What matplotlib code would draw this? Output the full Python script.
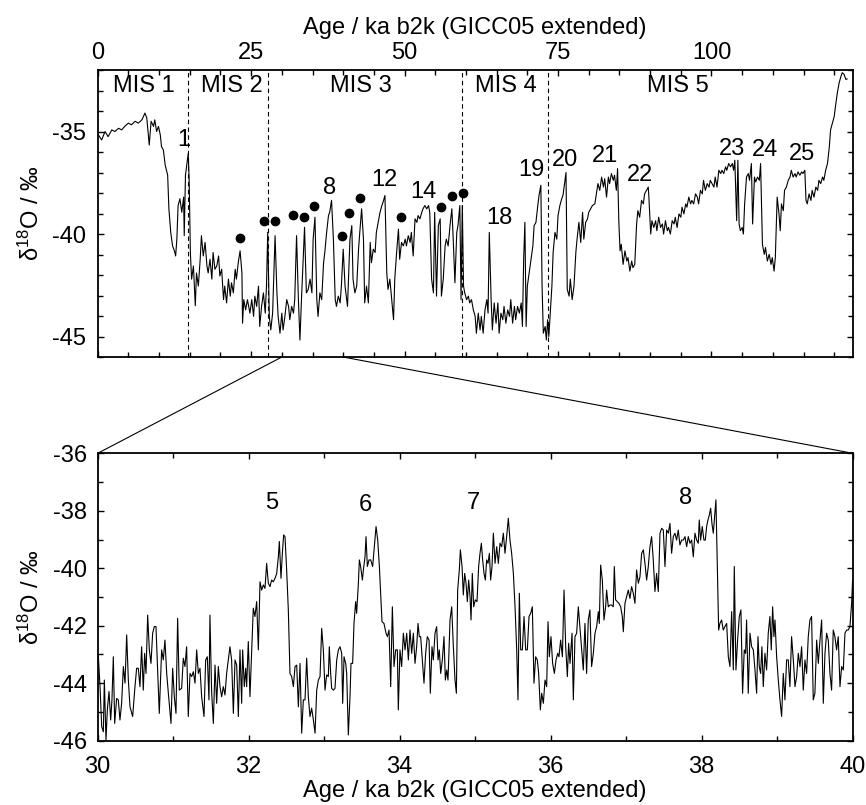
import numpy as np
import matplotlib.pyplot as plt
from matplotlib.patches import ConnectionPatch
from matplotlib.ticker import MultipleLocator

plt.rcParams['font.family'] = ['Liberation Sans', 'DejaVu Sans']
plt.rcParams['mathtext.fontset'] = 'custom'
plt.rcParams['mathtext.rm'] = 'Liberation Sans'
plt.rcParams['mathtext.it'] = 'Liberation Sans:italic'
plt.rcParams['font.size'] = 17
plt.rcParams['axes.unicode_minus'] = False

# full record, 0-123 ka
top_age = [
    0.1, 0.65, 1.2, 1.7, 2.3, 2.8, 3.4, 3.9, 4.4, 5.0, 5.5, 6.1, 6.6, 7.2, 7.7, 8.0, 8.4, 8.7, 9.1, 9.3,
    9.6, 9.9, 10.2, 10.4, 10.7, 11.0, 11.2, 11.4, 11.6, 11.9, 12.2, 12.5, 12.7, 12.9, 13.1, 13.4, 13.7, 14.0, 14.1, 14.3,
    14.5, 14.75, 14.9, 15.1, 15.3, 15.6, 15.9, 16.1, 16.4, 16.7, 16.9, 17.2, 17.5, 17.8, 18.0, 18.3, 18.6, 18.8, 19.1, 19.4,
    19.7, 19.9, 20.2, 20.5, 20.7, 21.0, 21.3, 21.6, 21.8, 22.1, 22.4, 22.6, 22.9, 23.2, 23.5, 23.6, 23.8, 24.1, 24.4, 24.8,
    25.1, 25.4, 25.6, 25.9, 26.2, 26.4, 26.7, 27.0, 27.3, 27.5, 27.7, 27.96, 28.2, 28.5, 28.7, 28.9, 29.2, 29.4, 29.7, 30.0,
    30.2, 30.5, 30.8, 31.1, 31.3, 31.6, 31.9, 32.1, 32.4, 32.7, 32.95, 33.2, 33.7, 34.0, 34.3, 34.6, 34.9, 35.1, 35.4, 35.7,
    35.9, 36.2, 36.5, 36.8, 37.0, 37.3, 37.6, 37.8, 38.1, 38.4, 38.7, 38.9, 39.2, 39.5, 39.7, 40.0,
    40.3, 40.7, 41.1, 41.4, 41.6, 41.9, 42.2, 42.5, 42.7, 43.0, 43.3, 43.5, 43.8, 44.1, 44.4, 44.6, 44.9, 45.2, 45.4, 45.7,
    46.0, 46.3, 46.5, 46.8, 47.1, 47.3, 47.6, 47.9, 48.2, 48.4, 48.7, 49.0, 49.2, 49.5, 49.8, 50.1, 50.3, 50.6, 50.9, 51.1,
    51.4, 51.7, 52.0, 52.2, 52.5, 52.8, 53.0, 53.3, 53.6, 53.9, 54.1, 54.4, 54.7, 54.9, 55.2, 55.5, 55.8, 56.0, 56.3, 56.6,
    56.8, 57.1, 57.4, 57.7, 57.9, 58.2, 58.5, 58.7, 59.0, 59.2, 59.4, 59.6, 59.8, 60.1, 60.4, 60.6, 60.9, 61.2, 61.5, 61.7,
    62.0, 62.3, 62.5, 62.8, 63.1, 63.4, 63.6, 63.8, 64.1, 64.3, 64.6, 64.9, 65.2, 65.4, 65.7, 66.0, 66.2, 66.5, 66.8, 67.1,
    67.3, 67.6, 67.9, 68.1, 68.4, 68.7, 69.0, 69.2, 69.4, 69.6, 69.8, 70.0, 70.3, 70.6, 70.9, 71.1, 71.4, 71.7, 71.9, 72.2,
    72.4, 72.6, 72.9, 73.1, 73.3, 73.5, 73.7, 74.0, 74.2, 74.5, 74.8, 75.0, 75.3, 75.6, 75.8, 76.1, 76.3, 76.5, 76.8, 77.0,
    77.3, 77.6, 77.9, 78.1, 78.4, 78.7, 79.0, 79.2, 79.5, 79.8, 80.0, 80.3, 80.6,
    81.0, 81.5, 81.8, 82.1, 82.4, 82.6, 82.9, 83.2, 83.4, 83.7, 84.0, 84.2, 84.5, 84.7, 84.9, 85.1, 85.3, 85.6, 85.9, 86.2,
    86.4, 86.7, 87.0, 87.2, 87.5, 87.8, 88.0, 88.3, 88.6, 88.9, 89.1, 89.4, 89.7, 89.8, 90.1, 90.3, 90.6, 90.9, 91.1, 91.4,
    91.7, 92.0, 92.2, 92.5, 92.8, 93.0, 93.3, 93.6, 93.9, 94.1, 94.4, 94.7, 95.0, 95.2, 95.5, 95.8, 96.0, 96.3, 96.6, 96.8,
    97.1, 97.4, 97.7, 97.9, 98.2, 98.5, 98.7, 99.0, 99.3, 99.6, 99.8, 100.1, 100.4, 100.6, 100.9, 101.2, 101.5, 101.7, 102.0, 102.3,
    102.5, 102.8, 103.1, 103.4, 103.6, 103.8, 104.1, 104.3, 104.5, 104.7, 105.0, 105.2, 105.4, 105.7, 106.0, 106.2, 106.5, 106.7, 107.0, 107.2,
    107.5, 107.8, 108.0, 108.3, 108.6, 108.8, 109.1, 109.4, 109.7, 109.9, 110.2, 110.4, 110.7, 111.0, 111.2, 111.4, 111.7, 111.9, 112.2, 112.5,
    112.8, 113.0, 113.3, 113.6, 113.8, 114.1, 114.4, 114.7, 114.9, 115.2, 115.4, 115.6, 115.9, 116.2, 116.4, 116.7, 117.0, 117.3, 117.5, 117.8,
    118.1, 118.3, 118.6, 118.9, 119.2, 119.4, 119.7, 120.0, 120.2, 120.5, 120.8, 121.1, 121.3, 121.6, 121.9, 122.1]
top_d18o = [
    -35.16, -35.41, -35.0, -35.25, -34.92, -35.0, -34.84, -34.92, -34.75, -34.59, -34.67, -34.5, -34.59, -34.43, -34.1, -34.34, -35.66, -34.5, -34.75, -34.43,
    -35.0, -34.75, -35.16, -35.74, -35.9, -36.64, -36.89, -37.13, -38.77, -39.92, -40.58, -40.82, -41.07, -40.25, -38.61, -38.28, -38.94, -38.2, -40.08, -37.13,
    -36.64, -36.07, -37.3, -40.9, -42.2, -41.56, -43.5, -41.9, -42.54, -41.23, -40.08, -41.07, -40.41, -41.56, -41.9, -41.23, -42.2, -40.9, -41.72, -41.56,
    -41.07, -42.05, -41.72, -43.2, -42.54, -43.36, -42.2, -43.03, -42.38, -42.87, -41.72, -42.2, -41.4, -40.82, -41.9, -44.35, -43.2, -43.7, -43.2, -43.86,
    -43.2, -44.02, -43.03, -43.53, -42.54, -44.51, -43.53, -42.87, -43.86, -42.54, -39.92, -44.02, -44.68, -43.86, -41.9, -40.08, -42.87, -44.02, -44.84, -43.86,
    -44.68, -44.02, -43.2, -43.53, -44.18, -43.53, -43.86, -43.2, -40.08, -43.2, -45.17, -43.2, -39.67, -42.87, -42.7, -42.2, -42.87, -40.25, -39.18, -43.2,
    -44.02, -42.87, -43.2, -41.4, -40.9, -39.92, -39.1, -38.94, -38.36, -40.25, -43.2, -43.53, -43.03, -43.36, -42.54, -40.74,
    -42.54, -43.53, -40.25, -39.59, -42.2, -42.87, -42.54, -40.74, -39.92, -38.77, -40.25, -43.36, -42.54, -43.36, -40.41, -41.4, -40.74, -40.9, -39.92, -39.43,
    -38.94, -38.61, -38.44, -38.12, -41.9, -42.7, -42.2, -43.2, -44.18, -42.2, -40.9, -39.76, -41.23, -40.41, -40.58, -40.25, -40.58, -40.08, -40.41, -39.92,
    -41.07, -39.26, -39.43, -39.1, -39.26, -38.94, -38.77, -38.61, -38.77, -38.61, -38.94, -42.2, -42.87, -38.94, -43.03, -39.59, -39.26, -43.03, -42.2, -40.58,
    -40.25, -40.58, -39.59, -38.77, -40.08, -42.38, -39.92, -39.59, -38.61, -43.2, -38.61, -42.54, -42.87, -43.2, -43.03, -43.36, -43.2, -43.7, -44.02, -44.84,
    -43.86, -44.68, -44.02, -44.84, -43.7, -43.2, -43.86, -39.92, -43.2, -44.68, -43.36, -44.35, -43.36, -44.84, -43.86, -44.18, -43.53, -44.35, -43.7, -44.02,
    -43.2, -44.35, -43.53, -44.18, -43.53, -43.86, -43.36, -44.51, -41.23, -39.43, -44.51, -42.54, -41.9, -41.23, -40.58, -39.59, -39.43, -38.61, -38.12, -37.62,
    -42.54, -44.84, -44.51, -45.17, -44.18, -45.0, -44.02, -42.54, -40.9, -39.92, -40.25, -39.1, -38.61, -38.28, -38.12, -37.46, -37.0, -42.7, -43.03, -42.2,
    -43.2, -42.54, -40.9, -40.25, -39.43, -40.41, -38.94, -40.25, -39.43, -39.26, -38.94, -38.77, -38.61,
    -38.53, -37.54, -37.87, -37.22, -37.71, -37.3, -38.2, -37.22, -37.54, -37.05, -37.38, -37.13, -37.87, -36.81, -39.35, -40.82, -40.5, -41.48, -40.82, -41.32,
    -41.15, -41.81, -41.32, -41.64, -41.48, -39.51, -38.86, -39.18, -38.36, -38.53, -38.04, -37.87, -37.71, -38.2, -40.0, -39.35, -39.68, -39.35, -39.84, -39.18,
    -39.68, -39.51, -40.0, -39.35, -39.84, -39.68, -40.0, -39.35, -39.51, -39.18, -39.68, -39.02, -39.18, -38.69, -39.02, -38.53, -38.69, -38.2, -38.53, -38.36,
    -38.53, -38.04, -38.2, -38.53, -37.87, -38.04, -37.38, -37.87, -37.54, -37.71, -37.38, -37.54, -37.71, -37.22, -37.71, -36.89, -37.05, -36.89, -37.05, -36.72,
    -36.89, -36.56, -36.72, -36.56, -36.89, -36.4, -39.35, -36.4, -39.51, -39.84, -39.68, -40.0, -38.53, -37.22, -37.05, -37.38, -36.56, -39.51, -37.22, -37.46,
    -37.22, -37.38, -36.56, -40.5, -40.99, -40.66, -41.32, -40.99, -41.48, -41.15, -41.81, -41.15, -38.2, -39.02, -39.84, -38.53, -38.86, -37.87, -37.71, -37.38,
    -37.22, -36.89, -37.22, -37.05, -37.22, -36.97, -37.13, -36.97, -37.05, -36.89, -38.36, -38.53, -38.04, -38.36, -37.87, -38.2, -37.71, -37.87, -37.38, -37.54,
    -37.22, -37.38, -36.89, -36.56, -35.74, -34.92, -34.59, -34.26, -33.77, -33.12, -32.62, -32.3, -32.13, -32.21, -32.46, -32.43]

# 30-40 ka detail
bot_age = [
    30.008, 30.031, 30.053, 30.075, 30.088, 30.110, 30.128, 30.150, 30.172, 30.189, 30.207, 30.225, 30.251, 30.273, 30.295, 30.317, 30.340, 30.362, 30.384, 30.406,
    30.428, 30.463, 30.494, 30.516, 30.538, 30.560, 30.582, 30.604, 30.622, 30.640, 30.662, 30.684, 30.706, 30.728, 30.750, 30.772, 30.816, 30.847, 30.869, 30.891,
    30.914, 30.936, 30.971, 30.993, 31.015, 31.037, 31.059, 31.081, 31.112, 31.134, 31.156, 31.178, 31.200, 31.223, 31.245, 31.267, 31.289, 31.311, 31.333, 31.355,
    31.377, 31.408, 31.430, 31.452, 31.474, 31.487, 31.509, 31.532, 31.554, 31.576, 31.598, 31.620, 31.642, 31.664, 31.686, 31.708, 31.730, 31.752, 31.774, 31.797,
    31.819, 31.841, 31.863, 31.885, 31.907, 31.920, 31.942, 31.960, 31.973, 31.995, 32.017, 32.039, 32.061, 32.083, 32.106, 32.128, 32.150, 32.172, 32.194, 32.216,
    32.238, 32.260, 32.282, 32.304, 32.326, 32.349, 32.371, 32.393, 32.406, 32.428, 32.446, 32.463, 32.481, 32.503, 32.525,
    32.547, 32.570, 32.592, 32.614, 32.636, 32.658, 32.680, 32.702, 32.724, 32.746, 32.768, 32.790, 32.812, 32.834, 32.857, 32.879, 32.901, 32.923, 32.945, 32.967,
    32.989, 33.011, 33.033, 33.055, 33.068, 33.086, 33.099, 33.121, 33.143, 33.166, 33.188, 33.210, 33.232, 33.245, 33.263, 33.285, 33.298, 33.320, 33.342, 33.355,
    33.377, 33.395, 33.417, 33.430, 33.453, 33.466, 33.483, 33.506, 33.519, 33.541, 33.554, 33.572, 33.594, 33.616, 33.642, 33.664, 33.687, 33.709, 33.731, 33.748,
    33.766, 33.792, 33.819, 33.837, 33.859, 33.881, 33.903, 33.925, 33.947, 33.969, 33.982, 34.004, 34.026, 34.049, 34.071, 34.093, 34.115, 34.137, 34.159, 34.181,
    34.203, 34.225, 34.243, 34.260, 34.278, 34.300, 34.322, 34.344, 34.366, 34.389, 34.406, 34.428, 34.446, 34.468, 34.490, 34.508, 34.525, 34.543, 34.565, 34.587,
    34.605, 34.623, 34.640, 34.667, 34.689, 34.711, 34.733, 34.751, 34.768, 34.790, 34.804, 34.826, 34.843, 34.861, 34.879, 34.896, 34.914, 34.932, 34.945, 34.962,
    34.980, 35.002, 35.024, 35.046, 35.064, 35.082, 35.099, 35.117, 35.135, 35.152, 35.170, 35.188, 35.205, 35.223, 35.241, 35.263, 35.285, 35.307, 35.329, 35.351,
    35.373, 35.395, 35.417, 35.439, 35.461, 35.483, 35.506, 35.528, 35.550, 35.567, 35.585, 35.603, 35.625, 35.647, 35.669, 35.691, 35.713, 35.735, 35.757, 35.779,
    35.801, 35.823, 35.841, 35.863, 35.881, 35.903, 35.925, 35.947, 35.965, 35.982, 36.004, 36.026, 36.049, 36.071, 36.093, 36.110, 36.132, 36.155, 36.177, 36.199,
    36.221, 36.238, 36.256, 36.283, 36.300, 36.322, 36.344, 36.366,
    36.410, 36.432, 36.454, 36.476, 36.498, 36.520, 36.542, 36.565, 36.587, 36.609, 36.631, 36.644, 36.662, 36.684, 36.706, 36.728, 36.741, 36.763, 36.785, 36.807,
    36.829, 36.843, 36.860, 36.882, 36.904, 36.927, 36.949, 36.962, 36.984, 37.006, 37.028, 37.050, 37.072, 37.094, 37.116, 37.138, 37.161, 37.183, 37.205, 37.227,
    37.249, 37.271, 37.293, 37.315, 37.337, 37.359, 37.381, 37.403, 37.425, 37.448, 37.470, 37.492, 37.514, 37.536, 37.558, 37.580, 37.602, 37.624, 37.646, 37.668,
    37.690, 37.712, 37.734, 37.757, 37.779, 37.801, 37.823, 37.845, 37.867, 37.889, 37.911, 37.933, 37.955, 37.968, 37.986, 38.008, 38.030, 38.048, 38.066, 38.083,
    38.101, 38.119, 38.136, 38.154, 38.172, 38.189, 38.207, 38.225, 38.242, 38.264, 38.286, 38.308, 38.331, 38.353, 38.375, 38.397, 38.419, 38.432, 38.454, 38.476,
    38.498, 38.520, 38.542, 38.564, 38.582, 38.595, 38.617, 38.640, 38.662, 38.684, 38.706, 38.728, 38.746, 38.763, 38.781, 38.798, 38.816, 38.838, 38.860, 38.882,
    38.904, 38.922, 38.940, 38.957, 38.971, 38.993, 39.015, 39.037, 39.059, 39.081, 39.103, 39.125, 39.147, 39.169, 39.191, 39.214, 39.236, 39.258, 39.280, 39.302,
    39.324, 39.346, 39.368, 39.390, 39.412, 39.434, 39.456, 39.478, 39.500, 39.523, 39.545, 39.567, 39.589, 39.611, 39.633, 39.655, 39.677, 39.699, 39.721, 39.743,
    39.765, 39.787, 39.809, 39.832, 39.854, 39.876, 39.898, 39.920, 39.942, 39.964, 39.986, 39.999]
bot_d18o = [
    -43.02, -44.12, -45.51, -45.69, -43.89, -45.98, -44.93, -44.29, -45.28, -44.58, -43.08, -45.40, -44.53, -44.58, -45.28, -44.70, -43.42, -44.00, -42.32, -43.89,
    -44.82, -45.16, -44.12, -43.48, -43.48, -44.12, -42.73, -44.24, -42.96, -43.66, -41.63, -42.84, -43.31, -42.26, -42.03, -42.03, -45.05, -42.84, -43.19, -42.50,
    -43.66, -44.35, -45.40, -43.48, -44.47, -45.05, -41.74, -44.24, -44.18, -43.13, -43.42, -42.73, -45.16, -43.66, -43.77, -43.60, -44.00, -42.84, -43.66, -43.48,
    -44.47, -45.16, -43.19, -43.08, -44.58, -41.63, -44.29, -45.40, -43.37, -44.70, -43.42, -44.12, -44.47, -44.12, -44.41, -43.66, -43.19, -42.73, -43.19, -45.05,
    -43.19, -43.37, -45.16, -42.84, -44.70, -42.84, -44.12, -43.48, -44.12, -42.55, -44.47, -42.96, -41.39, -41.68, -41.16, -42.84, -40.47, -40.76, -40.58, -40.70,
    -39.83, -40.52, -40.64, -40.41, -40.47, -40.35, -40.18, -39.60, -39.07, -40.35, -39.48, -38.84, -38.90, -40.06, -41.45,
    -43.66, -43.77, -44.12, -43.42, -43.37, -44.82, -43.31, -45.74, -44.58, -44.58, -43.13, -44.47, -45.16, -44.87, -45.28, -45.74, -44.24, -43.89, -43.77, -42.09,
    -42.84, -44.24, -43.71, -43.77, -42.73, -43.66, -44.18, -44.24, -44.18, -43.19, -42.84, -42.73, -42.96, -44.70, -43.08, -43.31, -43.66, -45.80, -44.47, -43.31,
    -43.31, -41.92, -41.16, -41.57, -40.52, -39.71, -39.94, -40.41, -40.06, -39.60, -38.90, -39.94, -39.71, -39.71, -39.94, -39.25, -38.55, -39.02, -39.94, -40.87,
    -41.86, -41.92, -42.26, -42.38, -42.15, -44.12, -41.34, -43.42, -42.84, -42.84, -44.93, -42.84, -43.42, -42.26, -42.84, -42.26, -43.19, -42.15, -42.96, -42.26,
    -43.31, -42.73, -41.92, -42.38, -42.38, -43.19, -44.00, -42.96, -42.38, -42.50, -44.35, -42.73, -43.19, -42.26, -42.03, -43.19, -42.84, -43.66, -43.19, -42.38,
    -43.89, -43.54, -43.89, -41.80, -41.34, -42.73, -43.89, -44.35, -40.76, -40.06, -39.36, -39.94, -40.93, -40.18, -40.52, -41.16, -40.41, -40.99, -41.80, -40.18,
    -41.34, -41.10, -41.16, -39.94, -39.48, -39.13, -39.71, -40.18, -40.41, -39.71, -39.83, -39.48, -40.41, -39.94, -38.78, -39.83, -39.25, -39.83, -39.13, -39.25,
    -38.78, -39.48, -38.90, -38.26, -39.02, -39.48, -40.18, -41.34, -42.84, -44.58, -40.87, -42.84, -42.84, -41.68, -42.84, -42.84, -41.68, -41.57, -41.34, -44.00,
    -43.08, -43.19, -43.66, -44.93, -44.35, -44.70, -43.89, -44.12, -41.86, -43.08, -42.38, -43.31, -43.66, -43.19, -42.96, -43.08, -42.50, -43.08, -40.76, -42.73,
    -43.77, -42.61, -43.31, -42.26, -44.58, -42.38, -42.26, -41.34,
    -42.84, -43.54, -41.92, -43.66, -41.80, -41.45, -43.42, -42.96, -42.26, -42.03, -41.51, -41.92, -39.89, -40.41, -41.80, -41.34, -40.76, -41.34, -41.28, -41.28,
    -41.34, -39.94, -41.10, -41.16, -41.22, -41.34, -41.68, -42.21, -41.22, -40.99, -40.76, -41.05, -40.64, -40.87, -41.22, -40.06, -40.52, -40.29, -39.48, -39.36,
    -39.83, -40.41, -39.94, -39.25, -38.90, -39.71, -40.81, -40.18, -40.81, -38.78, -38.61, -38.67, -39.94, -38.67, -38.78, -38.44, -39.48, -38.90, -38.78, -39.02,
    -38.67, -39.19, -39.02, -39.02, -38.90, -39.25, -38.90, -39.13, -39.02, -39.60, -38.78, -39.02, -39.13, -38.32, -39.02, -38.55, -39.02, -39.02, -38.55, -38.32,
    -38.15, -37.91, -38.44, -38.78, -38.20, -37.62, -39.94, -42.15, -41.92, -41.80, -42.15, -42.03, -41.92, -43.08, -43.42, -41.51, -43.54, -39.94, -43.54, -42.50,
    -41.68, -41.45, -44.35, -42.84, -42.96, -41.80, -44.35, -42.26, -42.73, -42.84, -43.54, -44.35, -42.38, -43.42, -43.66, -42.73, -44.12, -42.96, -43.54, -42.26,
    -41.68, -42.84, -41.34, -42.38, -41.80, -43.08, -43.89, -44.58, -45.16, -43.66, -44.58, -43.19, -43.19, -44.12, -42.38, -43.19, -44.12, -43.77, -42.96, -43.42,
    -42.73, -44.24, -43.19, -43.66, -42.38, -41.80, -41.68, -44.58, -44.35, -42.50, -43.31, -42.50, -41.80, -44.70, -42.96, -42.26, -42.50, -43.66, -44.24, -42.15,
    -42.38, -42.84, -42.38, -44.12, -43.42, -43.54, -42.26, -42.15, -42.15, -42.03, -41.22, -40.41]

# MIS boundaries and labels
mis_bounds = [14.7, 27.8, 59.4, 73.4]
mis_names = ['MIS 1', 'MIS 2', 'MIS 3', 'MIS 4', 'MIS 5']
mis_pos = [7.5, 21.8, 42.9, 66.5, 94.6]

# dots above interstadials
dot_age = [23.2, 27.1, 28.9, 31.8, 33.6, 35.3, 39.8, 40.9, 42.8, 49.4, 56.0, 57.7, 59.5]
dot_d18o = [-40.21, -39.37, -39.37, -39.07, -39.19, -38.62, -40.10, -38.96, -38.26, -39.19, -38.70, -38.15, -38.01]

# GI numbers
gi_names = ['1', '8', '12', '14', '18', '19', '20', '21', '22', '23', '24', '25']
gi_age = [14.1, 37.8, 46.7, 53.1, 65.5, 70.7, 76.1, 82.6, 88.3, 103.3, 108.7, 114.7]
gi_d18o = [-35.41, -37.77, -37.37, -37.93, -39.2, -36.88, -36.39, -36.2, -37.1, -35.85, -35.9, -36.1]

zoom_names = ['5', '6', '7', '8']
zoom_age = [32.3, 33.54, 34.97, 37.79]
zoom_d18o = [-37.74, -37.8, -37.74, -37.57]

fig = plt.figure(figsize=(8.66, 8.05), dpi=100)
ax1 = fig.add_axes([0.1128, 0.5565, 0.8718, 0.3565])
ax2 = fig.add_axes([0.1128, 0.0799, 0.8718, 0.3570])

# top panel
ax1.plot(top_age, top_d18o, color='black', lw=0.8)
for b in mis_bounds:
    ax1.axvline(b, color='black', lw=0.8, ls=(0, (4, 3)))
for name, x in zip(mis_names, mis_pos):
    ax1.text(x, -32.8, name, ha='center', va='center')
ax1.plot(dot_age, dot_d18o, 'o', color='black', ms=6)
for name, x, y in zip(gi_names, gi_age, gi_d18o):
    ax1.text(x, y, name, ha='center', va='center')

ax1.set_xlim(0, 123)
ax1.set_ylim(-46, -32)
ax1.xaxis.set_major_locator(MultipleLocator(25))
ax1.xaxis.set_minor_locator(MultipleLocator(5))
ax1.yaxis.set_major_locator(MultipleLocator(5))
ax1.yaxis.set_minor_locator(MultipleLocator(1))
ax1.tick_params(which='both', direction='in', top=True, bottom=True, left=True, right=True,
                labeltop=True, labelbottom=False)
ax1.tick_params(which='major', length=4, width=1)
ax1.tick_params(which='minor', length=3.5, width=1)
ax1.tick_params(axis='x', pad=4)
ax1.tick_params(axis='y', pad=8.5)
ax1.xaxis.set_label_position('top')
ax1.set_xlabel('Age / ka b2k (GICC05 extended)', labelpad=6)
ax1.set_ylabel('δ$^{18}$O / ‰', labelpad=6)

# bottom panel
ax2.plot(bot_age, bot_d18o, color='black', lw=0.8)
for name, x, y in zip(zoom_names, zoom_age, zoom_d18o):
    ax2.text(x, y, name, ha='center', va='center')
ax2.set_xlim(30, 40)
ax2.set_ylim(-46, -36)
ax2.xaxis.set_major_locator(MultipleLocator(2))
ax2.xaxis.set_minor_locator(MultipleLocator(1))
ax2.yaxis.set_major_locator(MultipleLocator(2))
ax2.yaxis.set_minor_locator(MultipleLocator(1))
ax2.tick_params(which='both', direction='in', top=True, bottom=True, left=True, right=True)
ax2.tick_params(which='major', length=4, width=1)
ax2.tick_params(which='minor', length=3.5, width=1)
ax2.tick_params(axis='x', pad=11)
ax2.tick_params(axis='y', pad=7.5)
ax2.set_xlabel('Age / ka b2k (GICC05 extended)', labelpad=1.5)
ax2.set_ylabel('δ$^{18}$O / ‰', labelpad=7)

for ax in (ax1, ax2):
    for s in ax.spines.values():
        s.set_linewidth(1.3)

# lines linking the 30-40 ka window to the lower panel
for x in (30, 40):
    con = ConnectionPatch(xyA=(x, -46), coordsA=ax1.transData,
                          xyB=(x, -36), coordsB=ax2.transData,
                          color='black', lw=0.8)
    fig.add_artist(con)

fig.savefig('out.png', dpi=100)
